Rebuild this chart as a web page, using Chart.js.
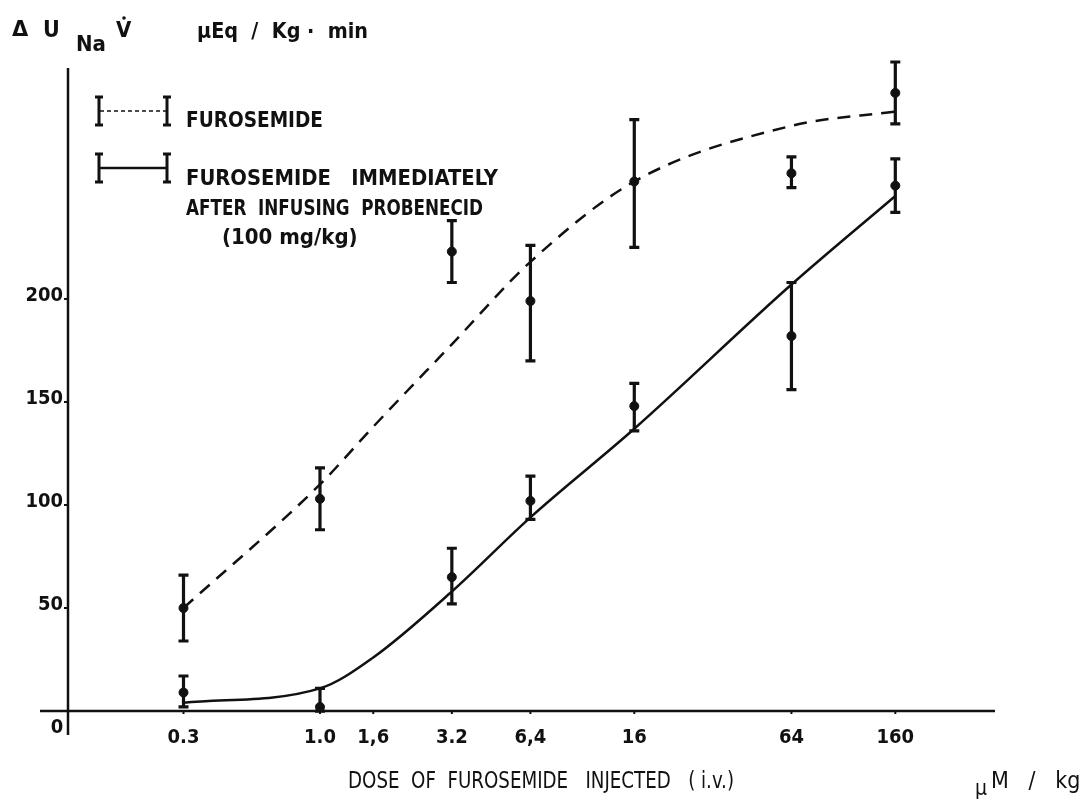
<!DOCTYPE html>
<html>
<head>
<meta charset="utf-8">
<script src="https://cdn.jsdelivr.net/npm/chart.js@4.4.0/dist/chart.umd.min.js"></script>
<style>
  body { margin: 0; background: #fff; overflow: hidden; }
  canvas { display: block; }
</style>
</head>
<body>
<canvas id="myChart" width="1087" height="808"></canvas>
<script>
// Doses on the x axis (log scale) and their printed labels
const doses = [0.3, 1.0, 1.6, 3.2, 6.4, 16, 64, 160];
const doseLabels = ['0.3', '1.0', '1,6', '3.2', '6,4', '16', '64', '160'];
const yTicks = [50, 100, 150, 200];

// Measured points (mean, low, high of the error bars)
const pointDoses = [0.3, 1.0, 3.2, 6.4, 16, 64, 160];
const furoMean = [50, 103, 223, 199, 257, 261, 300];
const furoLow = [34, 88, 208, 170, 225, 254, 285];
const furoHigh = [66, 118, 238, 226, 287, 269, 315];

const probMean = [9, 2, 65, 102, 148, 182, 255];
const probLow = [2, 0, 52, 93, 136, 156, 242];
const probHigh = [17, 11, 79, 114, 159, 208, 268];

// Fitted curves, read at the tick doses
const furoCurve = [50, 110, 138, 178, 218, 257, 284, 291];
const probCurve = [4, 11, 26, 58, 94, 137, 207, 250];

const ink = '#111';
const cond = '"DejaVu Sans Condensed", "DejaVu Sans", sans-serif';

function toXY(xs, ys) {
    return xs.map((x, i) => ({ x: x, y: ys[i] }));
}

function txt(ctx, s, x, y, font, align, maxW) {
    ctx.font = font;
    ctx.textAlign = align || 'left';
    ctx.textBaseline = 'alphabetic';
    if (maxW) ctx.fillText(s, x, y, maxW);
    else ctx.fillText(s, x, y);
}

function errBars(ctx, xs, ys, low, high) {
    ctx.lineWidth = 3.2;
    pointDoses.forEach((d, i) => {
        const x = xs.getPixelForValue(d);
        const y1 = ys.getPixelForValue(low[i]);
        const y2 = ys.getPixelForValue(high[i]);
        ctx.beginPath();
        ctx.moveTo(x, y1); ctx.lineTo(x, y2);
        ctx.moveTo(x - 5, y1); ctx.lineTo(x + 5, y1);
        ctx.moveTo(x - 5, y2); ctx.lineTo(x + 5, y2);
        ctx.stroke();
    });
}

// axes, labels, legend and error bars
const decor = {
    id: 'decor',
    beforeDatasetsDraw(chart) {
        const ctx = chart.ctx;
        const xs = chart.scales.x, ys = chart.scales.y;
        const area = chart.chartArea;
        const y0 = ys.getPixelForValue(0);
        ctx.save();
        ctx.strokeStyle = ink;
        ctx.fillStyle = ink;

        // axes
        ctx.lineWidth = 2.5;
        ctx.beginPath();
        ctx.moveTo(40, y0); ctx.lineTo(area.right, y0);
        ctx.moveTo(area.left, area.top); ctx.lineTo(area.left, 735);
        ctx.stroke();

        ctx.lineWidth = 2;
        doses.forEach((d, i) => {
            const x = xs.getPixelForValue(d);
            ctx.beginPath();
            ctx.moveTo(x, y0); ctx.lineTo(x, y0 + 3);
            ctx.stroke();
            txt(ctx, doseLabels[i], x, y0 + 32, 'bold 20px ' + cond, 'center');
        });
        yTicks.forEach(v => {
            const y = ys.getPixelForValue(v);
            ctx.beginPath();
            ctx.moveTo(area.left - 4, y); ctx.lineTo(area.left, y);
            ctx.stroke();
            txt(ctx, String(v), area.left - 5, y + 2, 'bold 20px ' + cond, 'right', 46);
        });
        txt(ctx, '0', 57, y0 + 22, 'bold 20px ' + cond, 'center');

        // error bars
        errBars(ctx, xs, ys, furoLow, furoHigh);
        errBars(ctx, xs, ys, probLow, probHigh);

        // y title
        txt(ctx, 'Δ', 12, 36, 'bold 21px "DejaVu Sans", sans-serif');
        txt(ctx, 'U', 43, 37, 'bold 23px ' + cond);
        txt(ctx, 'Na', 76, 51, 'bold 22px ' + cond, 'left', 32);
        txt(ctx, 'V', 116, 37, 'bold 22px ' + cond);
        ctx.beginPath();
        ctx.arc(124, 18, 1.8, 0, Math.PI * 2);
        ctx.fill();
        txt(ctx, 'μEq  /  Kg ·  min', 197, 38, 'bold 22px ' + cond, 'left', 171);

        // x title
        txt(ctx, 'DOSE  OF  FUROSEMIDE   INJECTED   ( i.v.)', 348, 788, '23px ' + cond, 'left', 386);
        txt(ctx, 'μ', 975, 795, '21px ' + cond);
        txt(ctx, 'M   /   kg', 991, 788, '23px ' + cond, 'left', 92);

        // legend
        ctx.lineWidth = 3;
        [[111, true], [168, false]].forEach(([ly, dashed]) => {
            ctx.beginPath();
            ctx.moveTo(99, ly - 14); ctx.lineTo(99, ly + 14);
            ctx.moveTo(95, ly - 14); ctx.lineTo(103, ly - 14);
            ctx.moveTo(95, ly + 14); ctx.lineTo(103, ly + 14);
            ctx.moveTo(167, ly - 14); ctx.lineTo(167, ly + 14);
            ctx.moveTo(163, ly - 14); ctx.lineTo(171, ly - 14);
            ctx.moveTo(163, ly + 14); ctx.lineTo(171, ly + 14);
            ctx.stroke();
            ctx.save();
            ctx.lineWidth = dashed ? 1.5 : 2.5;
            if (dashed) ctx.setLineDash([4, 3]);
            ctx.beginPath();
            ctx.moveTo(100, ly); ctx.lineTo(166, ly);
            ctx.stroke();
            ctx.restore();
        });
        txt(ctx, 'FUROSEMIDE', 186, 127, 'bold 22px ' + cond, 'left', 137);
        txt(ctx, 'FUROSEMIDE   IMMEDIATELY', 186, 185, 'bold 22px ' + cond, 'left', 312);
        txt(ctx, 'AFTER  INFUSING  PROBENECID', 186, 215, 'bold 22px ' + cond, 'left', 297);
        txt(ctx, '(100 mg/kg)', 222, 244, 'bold 22px ' + cond, 'left', 140);

        ctx.restore();
    }
};

const ctx = document.getElementById('myChart').getContext('2d');

const myChart = new Chart(ctx, {
    type: 'line',
    data: {
        datasets: [
            {
                data: toXY(doses, furoCurve),
                borderColor: ink,
                borderWidth: 2.5,
                borderDash: [13, 9],
                pointRadius: 0,
                cubicInterpolationMode: 'monotone',
                fill: false
            },
            {
                data: toXY(doses, probCurve),
                borderColor: ink,
                borderWidth: 2.5,
                pointRadius: 0,
                cubicInterpolationMode: 'monotone',
                fill: false
            },
            {
                type: 'scatter',
                data: toXY(pointDoses, furoMean),
                pointRadius: 4.5,
                backgroundColor: ink,
                borderColor: ink
            },
            {
                type: 'scatter',
                data: toXY(pointDoses, probMean),
                pointRadius: 4.5,
                backgroundColor: ink,
                borderColor: ink
            }
        ]
    },
    options: {
        responsive: false,
        animation: false,
        devicePixelRatio: 1,
        layout: { padding: { left: 68, top: 68, right: 92, bottom: 78 } },
        scales: {
            x: { type: 'logarithmic', min: 0.1083, max: 385.5, display: false },
            y: { type: 'linear', min: -9.2, max: 312.1, display: false }
        },
        plugins: {
            legend: { display: false }, // drawn by hand in decor
            tooltip: { enabled: false }
        }
    },
    plugins: [decor]
});
</script>
</body>
</html>
